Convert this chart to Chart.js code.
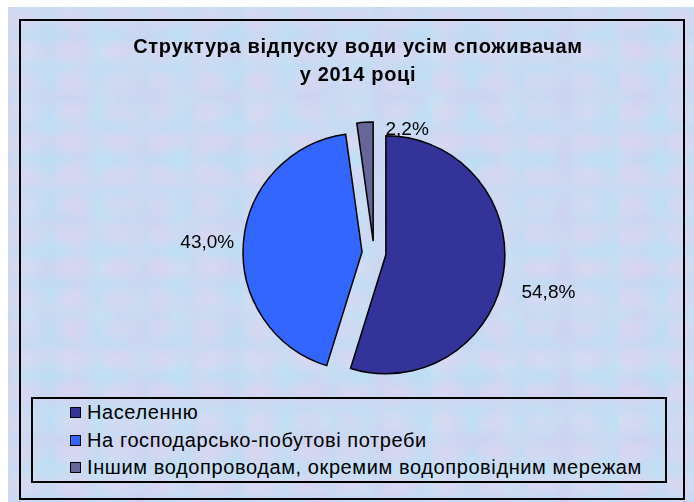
<!DOCTYPE html>
<html>
<head>
<meta charset="utf-8">
<script src="https://cdn.jsdelivr.net/npm/chart.js@4/dist/chart.umd.min.js"></script>
<style>
  body { margin: 0; background: #fff; width: 694px; height: 502px; position: relative; overflow: hidden; }
  #paper {
    position: absolute; left: 8px; top: 7px; width: 686px; height: 495px;
    background:
      radial-gradient(ellipse at 30% 40%, rgba(236,212,240,0.45), rgba(236,212,240,0) 60%) 0 0/47px 31px,
      radial-gradient(ellipse at 70% 60%, rgba(180,226,246,0.6), rgba(180,226,246,0) 60%) 0 0/61px 43px,
      radial-gradient(ellipse at 50% 50%, rgba(208,200,238,0.4), rgba(208,200,238,0) 65%) 13px 7px/83px 57px,
      radial-gradient(ellipse at 40% 50%, rgba(196,232,244,0.5), rgba(196,232,244,0) 60%) 5px 19px/37px 53px,
      #cbd9f2;
  }
  #frame { position: absolute; left: 19px; top: 19px; width: 666px; height: 481px; box-sizing: border-box; border: 2px solid #000; }
  #title {
    position: absolute; left: 0; top: 32px; width: 716px; text-align: center;
    font: bold 20px "Liberation Sans", Arial, sans-serif; letter-spacing: 0.7px;
    line-height: 28px; color: #000;
  }
  #wrap { position: absolute; left: 0; top: 0; width: 694px; height: 394px; }
  #legend {
    position: absolute; left: 31px; top: 397px; width: 636px; height: 86px; box-sizing: border-box;
    border: 2px solid #000;
    font: 20px "Liberation Sans", Arial, sans-serif; letter-spacing: 0.6px; color: #000;
  }
  .row { height: 27.5px; display: flex; align-items: center; padding-left: 37px; }
  .box { width: 9px; height: 9px; border: 1px solid #000; margin-right: 6px; }
</style>
</head>
<body>
<div id="paper"></div>
<div id="frame"></div>
<div id="wrap"><canvas id="pie" width="694" height="394"></canvas></div>
<div id="title">Структура відпуску води усім споживачам<br>у 2014 році</div>
<div id="legend"></div>
<script>
// Дані з діаграми
const categories = [
  "Населенню",
  "На господарсько-побутові потреби",
  "Іншим водопроводам, окремим водопровідним мережам"
];
const shares = [54.8, 43.0, 2.2];
const colors = ["#333399", "#3366ff", "#666699"];

function fmt(v) {
  return v.toFixed(1).replace(".", ",") + "%";
}

// Розсунуті сектори (як у Excel)
const explodePlugin = {
  id: "explode",
  beforeDatasetsDraw(chart, args, opts) {
    const ctx = chart.ctx;
    chart.getDatasetMeta(0).data.forEach(function (arc) {
      const mid = (arc.startAngle + arc.endAngle) / 2;
      ctx.save();
      ctx.translate(Math.cos(mid) * opts.distance, Math.sin(mid) * opts.distance);
      arc.draw(ctx);
      ctx.restore();
    });
    return false;
  },
};

// Підписи відсотків
const labelPlugin = {
  id: "pieLabels",
  afterDraw(chart, args, opts) {
    const ctx = chart.ctx;
    const dist = chart.options.plugins.explode.distance;
    ctx.save();
    ctx.font = opts.font;
    ctx.fillStyle = "#000";
    ctx.textAlign = "center";
    ctx.textBaseline = "middle";
    chart.getDatasetMeta(0).data.forEach(function (arc, i) {
      const mid = (arc.startAngle + arc.endAngle) / 2;
      const cx = arc.x + Math.cos(mid) * dist;
      const cy = arc.y + Math.sin(mid) * dist;
      const p = opts.place[i];
      const a = mid + (p[1] * Math.PI) / 180;
      ctx.fillText(fmt(shares[i]), cx + Math.cos(a) * p[0], cy + Math.sin(a) * p[0]);
    });
    ctx.restore();
  },
};

const chart = new Chart(document.getElementById("pie"), {
  type: "pie",
  data: {
    labels: categories,
    datasets: [{
      data: shares,
      backgroundColor: colors,
      borderColor: "#000",
      borderWidth: 1.5,
      borderJoinStyle: "miter",
      radius: 119,
    }],
  },
  options: {
    responsive: false,
    animation: false,
    events: [],
    layout: { padding: { left: 54, right: 0, top: 112, bottom: 0 } },
    plugins: {
      legend: { display: false },
      title: { display: false },
      tooltip: { enabled: false },
      explode: { distance: 12 },
      pieLabels: {
        font: '19px "Liberation Sans", Arial, sans-serif',
        place: [[167, 4.6], [155, -1.4], [116, 21]],
      },
    },
  },
  plugins: [explodePlugin, labelPlugin],
});

// Легенда в рамці
const legendEl = document.getElementById("legend");
categories.forEach(function (name, i) {
  const row = document.createElement("div");
  row.className = "row";
  const box = document.createElement("span");
  box.className = "box";
  box.style.background = colors[i];
  const txt = document.createElement("span");
  txt.textContent = name;
  row.appendChild(box);
  row.appendChild(txt);
  legendEl.appendChild(row);
});
</script>
</body>
</html>
